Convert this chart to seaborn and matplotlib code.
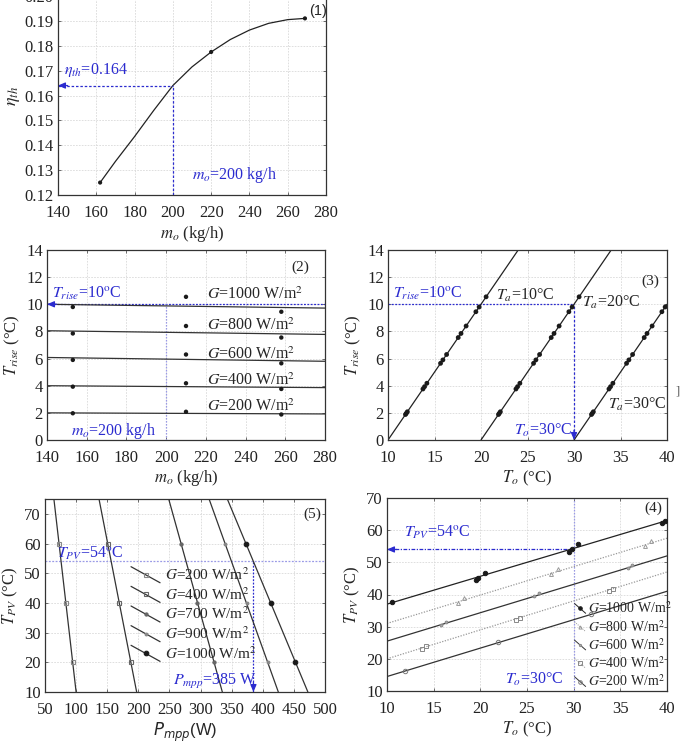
import matplotlib
matplotlib.use("Agg")
import matplotlib.pyplot as plt
import seaborn as sns
import pandas as pd
from matplotlib.legend_handler import HandlerLine2D
from matplotlib.lines import Line2D

sns.set_theme(style="white")
plt.rcParams["font.family"] = ["Liberation Serif", "DejaVu Serif"]
plt.rcParams["mathtext.fontset"] = "stix"

BLUE = "#2b2bcf"
LBLUE = "#9a9ae6"

# ---------------- Panel (1) data ----------------
m1_curve = [162, 170, 180, 190, 200, 210, 220, 230, 240, 250, 260, 269]
eta_curve = [0.125, 0.1335, 0.1435, 0.154, 0.164, 0.1715, 0.1775, 0.1825, 0.1863, 0.189, 0.1905, 0.191]
m1_pts = [162, 220, 269]
eta_pts = [0.125, 0.1775, 0.191]
mo_ref = 200
eta_ref = 0.164

# ---------------- Panel (2) data ----------------
G2 = [1000, 800, 600, 400, 200]
m2_line = [140, 280]
trise_line = {1000: [10.0, 9.72], 800: [8.05, 7.78], 600: [6.08, 5.8], 400: [4.0, 3.86], 200: [2.0, 1.92]}
m2_pts = [153, 210, 258]
trise_pts = {1000: [9.8, 10.55, 9.45], 800: [7.85, 8.4, 7.55], 600: [5.9, 6.3, 5.65], 400: [3.93, 4.18, 3.76], 200: [1.97, 2.08, 1.88]}
g2_label_y = [10.4, 8.1, 6.0, 4.05, 2.15]
trise_ref = 10

# ---------------- Panel (3) data ----------------
Ta = [10, 20, 30]
to3_line = {10: [10, 24], 20: [20, 34], 30: [30, 40]}
tr3_line = {10: [0, 14], 20: [0, 14], 30: [0, 10]}
tr3_pts = [1.88, 1.97, 2.08, 3.76, 3.93, 4.18, 5.65, 5.9, 6.3, 7.55, 7.85, 8.4, 9.45, 9.8, 10.55]
to3_pts = {
    10: [11.88, 11.97, 12.08, 13.76, 13.93, 14.18, 15.65, 15.9, 16.3, 17.55, 17.85, 18.4, 19.45, 19.8, 20.55],
    20: [21.88, 21.97, 22.08, 23.76, 23.93, 24.18, 25.65, 25.9, 26.3, 27.55, 27.85, 28.4, 29.45, 29.8, 30.55],
    30: [31.88, 31.97, 32.08, 33.76, 33.93, 34.18, 35.65, 35.9, 36.3, 37.55, 37.85, 38.4, 39.45, 39.8, None],
}
to_ref = 30

# ---------------- Panel (5) data ----------------
G5 = [200, 400, 700, 900, 1000]
tpv5_line = [75, 10]
p5_line = {200: [64.3, 100], 400: [136.8, 197.3], 700: [248.8, 335], 900: [313.7, 425], 1000: [343, 472.5]}
tpv5_pts = [60, 40, 20]
p5_pts = {200: [72.5, 83, 94.5], 400: [150.8, 169.5, 188], 700: [268.7, 295, 322], 900: [339, 374, 408], 1000: [373, 413, 452.5]}
tpv_ref = 54
pmpp_ref = 385

# ---------------- Panel (4) data ----------------
G4 = [1000, 800, 600, 400, 200]
to4_line = [10, 40]
tpv4_line = {1000: [37, 63], 800: [31, 57.5], 600: [25.5, 52], 400: [20, 47], 200: [14.5, 41]}
to4_pts = {
    1000: [10.5, 19.5, 19.8, 20.5, 29.5, 29.8, 30.5, 39.5, 39.8],
    800: [17.6, 18.3, 27.6, 28.3, 37.6, 38.3],
    600: [15.8, 16.3, 25.8, 26.3, 35.8, 36.3],
    400: [13.8, 14.2, 23.8, 24.2, 33.8, 34.2],
    200: [11.9, 21.9, 31.9],
}
tpv4_pts = {
    1000: [37.8, 44.5, 45.2, 46.6, 53.3, 54.1, 55.6, 62.3, 63.0],
    800: [37.4, 38.8, 46.3, 47.8, 55.2, 56.5],
    600: [30.6, 31.5, 39.5, 40.5, 48.2, 49.2],
    400: [23.2, 23.9, 32.1, 32.8, 41.0, 41.8],
    200: [16.2, 25.1, 34.0],
}


class SlantHandler(HandlerLine2D):
    def __init__(self, drop=1.0, **kw):
        super().__init__(**kw)
        self.drop = drop

    def create_artists(self, legend, orig_handle, xdescent, ydescent, width, height, fontsize, trans):
        x0, x1 = -xdescent, -xdescent + width
        yc = -ydescent + height / 2
        y0, y1 = yc + height * self.drop / 2, yc - height * self.drop / 2
        line = Line2D([x0, x1], [y0, y1])
        self.update_prop(line, orig_handle, legend)
        line.set_marker("None")
        line.set_transform(trans)
        mk = Line2D([(x0 + x1) / 2], [(y0 + y1) / 2])
        self.update_prop(mk, orig_handle, legend)
        mk.set_linestyle("None")
        mk.set_transform(trans)
        return [line, mk]


def style_ax(ax):
    ax.grid(True, color="#d9d9d9", ls=(0, (2, 1.5)), lw=0.6)
    ax.set_axisbelow(True)
    for s in ax.spines.values():
        s.set_color("#333333")
        s.set_linewidth(0.9)
        s.set_visible(True)
    ax.tick_params(direction="in", length=2.5, width=0.6, color="#555555",
                   top=True, right=True, left=True, bottom=True, labelsize=12,
                   labelcolor="#222222")
    ax.tick_params(axis="x", pad=7)
    ax.tick_params(axis="y", pad=3)


def hline_arrow(ax, x0, x1, y, color, ls, arrow_left=True):
    sns.lineplot(x=[x0, x1], y=[y, y], ax=ax, color=color, lw=0.9, ls=ls)
    if arrow_left:
        ax.annotate("", xy=(x0, y), xytext=(7, 0), textcoords="offset points",
                    arrowprops=dict(arrowstyle="-|>,head_length=0.35,head_width=0.15",
                                    color=color, lw=0.9, shrinkA=0, shrinkB=0))


def vline_arrow(ax, x, y0, y1, color, ls, arrow_down=True):
    sns.lineplot(x=[x, x], y=[y0, y1], ax=ax, color=color, lw=0.9, ls=ls, orient="y")
    if arrow_down:
        ax.annotate("", xy=(x, y1), xytext=(0, 7), textcoords="offset points",
                    arrowprops=dict(arrowstyle="-|>,head_length=0.35,head_width=0.15",
                                    color=color, lw=0.9, shrinkA=0, shrinkB=0))


fig = plt.figure(figsize=(6.84, 7.44), dpi=100)
W, H = 684.0, 744.0


def add_ax(x0, x1, ytop, ybot):
    return fig.add_axes([x0 / W, (H - ybot) / H, (x1 - x0) / W, (ybot - ytop) / H])


# ================= Panel (1) =================
ax1 = add_ax(58, 326, -4, 195)
style_ax(ax1)
sns.lineplot(x=m1_curve, y=eta_curve, ax=ax1, color="#222222", lw=0.9)
sns.scatterplot(x=m1_pts, y=eta_pts, ax=ax1, color="k", s=9, edgecolor="none", zorder=5)
hline_arrow(ax1, 140, mo_ref, eta_ref, BLUE, (0, (2, 1.5)))
vline_arrow(ax1, mo_ref, 0.12, eta_ref, BLUE, (0, (2, 1.5)), arrow_down=False)
ax1.set_xlim(140, 280)
ax1.set_ylim(0.12, 0.20)
ax1.set_xticks(range(140, 281, 20))
ax1.set_yticks([0.12, 0.13, 0.14, 0.15, 0.16, 0.17, 0.18, 0.19, 0.20])
ax1.set_yticklabels(["0.12", "0.13", "0.14", "0.15", "0.16", "0.17", "0.18", "0.19", "0.20"])
ax1.text(143, 0.1685, r"$\eta_{th}$=0.164", color=BLUE, fontsize=11.5)
ax1.text(210, 0.1265, r"$m_o$=200 kg/h", color=BLUE, fontsize=11.5)
ax1.text(271, 0.1925, "(1)", fontsize=10.5, family=["Liberation Sans", "DejaVu Sans"])
ax1.set_xlabel(r"$m_o$ (kg/h)", fontsize=12, labelpad=2)
ax1.set_ylabel(r"$\eta_{th}$", fontsize=13, labelpad=2)

# ================= Panel (2) =================
ax2 = add_ax(47, 325, 250, 440)
style_ax(ax2)
hline_arrow(ax2, 140, 280, trise_ref, BLUE, (0, (1.5, 1.2)))
vline_arrow(ax2, mo_ref, 0, trise_ref, LBLUE, (0, (1.2, 1.2)), arrow_down=False)
for g in G2:
    sns.lineplot(x=m2_line, y=trise_line[g], ax=ax2, color="#333333", lw=0.9)
    sns.scatterplot(x=m2_pts, y=trise_pts[g], ax=ax2, color="k", s=10, edgecolor="none", zorder=5)
for g, yl in zip(G2, g2_label_y):
    ax2.text(220.5, yl, rf"$G$={g} W/m$^2$", fontsize=11.5, va="baseline")
ax2.text(142.5, 10.45, r"$T_{rise}$=10$^{\rm o}$C", color=BLUE, fontsize=11.5)
ax2.text(152, 0.4, r"$m_o$=200 kg/h", color=BLUE, fontsize=11.5)
ax2.text(263, 12.5, "(2)", fontsize=11)
ax2.set_xlim(140, 280)
ax2.set_ylim(0, 14)
ax2.set_xticks(range(140, 281, 20))
ax2.set_yticks(range(0, 15, 2))
ax2.set_xlabel(r"$m_o$ (kg/h)", fontsize=12, labelpad=2)
ax2.set_ylabel(r"$T_{rise}$ (°C)", fontsize=12, labelpad=3)

# ================= Panel (3) =================
ax3 = add_ax(388, 667, 250, 440)
style_ax(ax3)
hline_arrow(ax3, 10, to_ref, trise_ref, BLUE, (0, (1.5, 1.2)), arrow_left=False)
vline_arrow(ax3, to_ref, trise_ref, 0, BLUE, (0, (2, 1.5)), arrow_down=True)
for t in Ta:
    sns.lineplot(x=to3_line[t], y=tr3_line[t], ax=ax3, color="#222222", lw=0.9, orient="y")
    xs = [x for x in to3_pts[t] if x is not None]
    ys = [y for x, y in zip(to3_pts[t], tr3_pts) if x is not None]
    sns.scatterplot(x=xs, y=ys, ax=ax3, color="k", s=12, edgecolor="none", zorder=5)
ax3.text(21.6, 10.3, r"$T_a$=10°C", fontsize=11.5)
ax3.text(30.9, 9.8, r"$T_a$=20°C", fontsize=11.5)
ax3.text(33.7, 2.3, r"$T_a$=30°C", fontsize=11.5)
ax3.text(10.5, 10.45, r"$T_{rise}$=10$^{\rm o}$C", color=BLUE, fontsize=11.5)
ax3.text(23.5, 0.4, r"$T_o$=30°C", color=BLUE, fontsize=11.5)
ax3.text(37.2, 11.4, "(3)", fontsize=11)
ax3.set_xlim(10, 40)
ax3.set_ylim(0, 14)
ax3.set_xticks(range(10, 41, 5))
ax3.set_yticks(range(0, 15, 2))
ax3.set_xlabel(r"$T_o$ (°C)", fontsize=12, labelpad=2)
ax3.set_ylabel(r"$T_{rise}$ (°C)", fontsize=12, labelpad=3)
fig.text(678 / W, 1 - 392 / H, "]", fontsize=9, color="#555555", va="center", ha="center")

# ================= Panel (5) =================
ax5 = add_ax(45, 325, 499, 692)
style_ax(ax5)
hline_arrow(ax5, 50, 500, tpv_ref, LBLUE, (0, (1.5, 1.2)), arrow_left=False)
vline_arrow(ax5, pmpp_ref, tpv_ref, 10, BLUE, (0, (1.5, 1.2)), arrow_down=True)
mk5 = {200: ("s", 3.0, "#888888", "none"), 400: ("s", 3.5, "#666666", "none"),
       700: ("o", 2.3, "#666666", "#666666"), 900: ("o", 2.0, "#888888", "#888888"),
       1000: ("o", 3.3, "k", "k")}
handles5 = []
for g in G5:
    m, ms, c, fc = mk5[g]
    sns.lineplot(x=p5_line[g], y=tpv5_line, ax=ax5, color="#333333", lw=0.9, orient="y")
    ax5.plot(p5_pts[g], tpv5_pts, ls="none", marker=m, ms=ms, mec=c, mfc=fc, mew=0.8, zorder=5)
    handles5.append(Line2D([], [], color="#333333", lw=0.9, marker=m, ms=ms, mec=c, mfc=fc, mew=0.8))
leg5 = ax5.legend(handles5, [rf"$G$={g} W/m$^2$" for g in G5], loc="upper left",
                  bbox_to_anchor=(0.28, 0.69), frameon=False, fontsize=11, handlelength=1.9,
                  handletextpad=0.3, labelspacing=0.2, borderpad=0,
                  handler_map={Line2D: SlantHandler(drop=1.5)})
ax5.text(69, 55.3, r"$T_{PV}$=54$^{\rm o}$C", color=BLUE, fontsize=11.5)
ax5.text(255, 12.3, r"$P_{mpp}$=385 W", color=BLUE, fontsize=11.5)
ax5.text(466, 68.5, "(5)", fontsize=11)
ax5.set_xlim(50, 500)
ax5.set_ylim(10, 75)
ax5.set_xticks(range(50, 501, 50))
ax5.set_yticks(range(10, 71, 10))
ax5.set_xlabel(r"$P_{mpp}$(W)", fontsize=12, labelpad=2,
               family=["Liberation Sans", "DejaVu Sans"], math_fontfamily="dejavusans")
ax5.set_ylabel(r"$T_{PV}$ (°C)", fontsize=12, labelpad=3)

# ================= Panel (4) =================
ax4 = add_ax(387, 667, 498, 691)
style_ax(ax4)
hline_arrow(ax4, 10, to_ref, tpv_ref, BLUE, (0, (3, 1.2, 1, 1.2)))
vline_arrow(ax4, to_ref, 10, 70, LBLUE, (0, (1.2, 1.2)), arrow_down=False)
st4 = {1000: ("-", "#222222", "o", 3.2, "k", "k"),
       800: ((0, (1, 1.2)), "#999999", "^", 2.8, "#999999", "none"),
       600: ("-", "#333333", "o", 2.0, "#888888", "#aaaaaa"),
       400: ((0, (1, 1.2)), "#999999", "s", 3.0, "#888888", "none"),
       200: ("-", "#333333", "o", 3.2, "#777777", "none")}
handles4 = []
for g in G4:
    ls, lc, m, ms, mc, mf = st4[g]
    sns.lineplot(x=to4_line, y=tpv4_line[g], ax=ax4, color=lc, lw=0.9, ls=ls)
    ax4.plot(to4_pts[g], tpv4_pts[g], ls="none", marker=m, ms=ms, mec=mc, mfc=mf, mew=0.7, zorder=5)
    handles4.append(Line2D([], [], color=lc, lw=0.7, ls=ls, marker=m, ms=ms * 0.8, mec=mc, mfc=mf, mew=0.7))
leg4 = ax4.legend(handles4, [rf"$G$={g} W/m$^2$" for g in G4], loc="upper left",
                  bbox_to_anchor=(0.645, 0.505), frameon=False, fontsize=10, handlelength=0.8,
                  handletextpad=0.2, labelspacing=0.18, borderpad=0,
                  handler_map={Line2D: SlantHandler(drop=1.0)})
ax4.text(11.8, 57.8, r"$T_{PV}$=54$^{\rm o}$C", color=BLUE, fontsize=11.5)
ax4.text(22.6, 12.2, r"$T_o$=30°C", color=BLUE, fontsize=11.5)
ax4.text(37.6, 65.6, "(4)", fontsize=11)
ax4.set_xlim(10, 40)
ax4.set_ylim(10, 70)
ax4.set_xticks(range(10, 41, 5))
ax4.set_yticks(range(10, 71, 10))
ax4.set_xlabel(r"$T_o$ (°C)", fontsize=12, labelpad=2)
ax4.set_ylabel(r"$T_{PV}$ (°C)", fontsize=12, labelpad=3)

fig.savefig("out.png", dpi=100)
